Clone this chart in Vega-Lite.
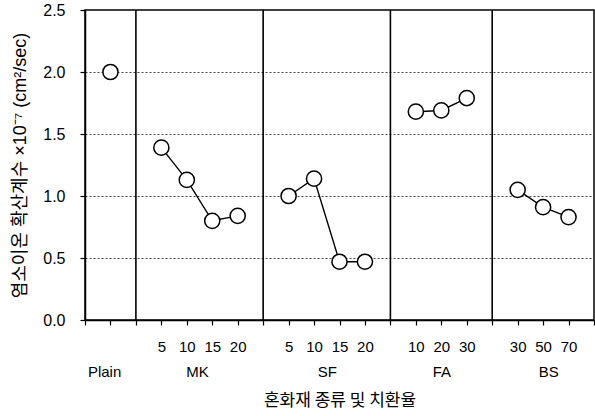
{
  "$schema": "https://vega.github.io/schema/vega-lite/v6.json",
  "width": 509,
  "height": 310,
  "autosize": "none",
  "padding": {"left": 85, "top": 10, "right": 1, "bottom": 96},
  "background": "#ffffff",
  "config": {
    "font": "Liberation Sans, Noto Sans CJK KR, sans-serif",
    "view": {"stroke": "#000000", "strokeWidth": 1.5},
    "axis": {
      "labelFont": "Liberation Sans, Noto Sans CJK KR, sans-serif",
      "titleFont": "Liberation Sans, Noto Sans CJK KR, sans-serif",
      "labelColor": "#000000",
      "titleColor": "#000000",
      "domainColor": "#000000",
      "domainWidth": 1.5,
      "tickColor": "#000000",
      "tickWidth": 1.2,
      "titleFontWeight": "normal"
    }
  },
  "datasets": {
    "pts": [
      {"group": "Plain", "rate": 0, "pos": 1, "D": 2.0},
      {"group": "MK", "rate": 5, "pos": 3, "D": 1.39},
      {"group": "MK", "rate": 10, "pos": 4, "D": 1.13},
      {"group": "MK", "rate": 15, "pos": 5, "D": 0.80},
      {"group": "MK", "rate": 20, "pos": 6, "D": 0.84},
      {"group": "SF", "rate": 5, "pos": 8, "D": 1.0},
      {"group": "SF", "rate": 10, "pos": 9, "D": 1.14},
      {"group": "SF", "rate": 15, "pos": 10, "D": 0.47},
      {"group": "SF", "rate": 20, "pos": 11, "D": 0.47},
      {"group": "FA", "rate": 10, "pos": 13, "D": 1.68},
      {"group": "FA", "rate": 20, "pos": 14, "D": 1.69},
      {"group": "FA", "rate": 30, "pos": 15, "D": 1.79},
      {"group": "BS", "rate": 30, "pos": 17, "D": 1.05},
      {"group": "BS", "rate": 50, "pos": 18, "D": 0.91},
      {"group": "BS", "rate": 70, "pos": 19, "D": 0.83}
    ],
    "div": [{"pos": 2}, {"pos": 7}, {"pos": 12}, {"pos": 16}]
  },
  "resolve": {"axis": {"x": "independent"}},
  "layer": [
    {
      "data": {"name": "div"},
      "mark": {"type": "rule", "color": "#000000", "strokeWidth": 1.6},
      "encoding": {
        "x": {
          "field": "pos",
          "type": "quantitative",
          "scale": {"domain": [0, 20], "nice": false, "zero": false},
          "axis": {
            "orient": "bottom",
            "values": [0.75, 4.4, 9.5, 14, 18.2],
            "labelExpr": "datum.value < 1 ? 'Plain' : datum.value < 5 ? 'MK' : datum.value < 10 ? 'SF' : datum.value < 15 ? 'FA' : 'BS'",
            "domain": false,
            "ticks": false,
            "grid": false,
            "labelFontSize": 15,
            "labelPadding": 44,
            "labelFlush": false,
            "labelOverlap": false,
            "title": "혼화재 종류 및 치환율",
            "titleFont": "Noto Sans CJK KR",
            "titleFontSize": 17,
            "titlePadding": 13
          }
        }
      }
    },
    {
      "data": {"name": "pts"},
      "mark": {"type": "line", "color": "#000000", "strokeWidth": 1.4},
      "encoding": {
        "x": {
          "field": "pos",
          "type": "quantitative",
          "scale": {"domain": [0, 20], "nice": false, "zero": false},
          "axis": {
            "orient": "bottom",
            "values": [0, 1, 2, 3, 4, 5, 6, 7, 8, 9, 10, 11, 12, 13, 14, 15, 16, 17, 18, 19, 20],
            "labelExpr": "['','','','5','10','15','20','','5','10','15','20','','10','20','30','','30','50','70',''][datum.value]",
            "grid": false,
            "tickSize": 5,
            "labelFontSize": 15,
            "labelPadding": 14,
            "labelFlush": false,
            "labelOverlap": false,
            "title": null
          }
        },
        "y": {
          "field": "D",
          "type": "quantitative",
          "scale": {"domain": [0, 2.5], "nice": false},
          "axis": {
            "values": [0, 0.5, 1.0, 1.5, 2.0, 2.5],
            "format": ".1f",
            "grid": true,
            "gridColor": "#444444",
            "gridDash": [2, 2],
            "gridWidth": 1,
            "tickSize": 5,
            "labelFontSize": 16,
            "labelPadding": 15,
            "title": "염소이온 확산계수 ×10⁻⁷ (cm²/sec)",
            "titleFontSize": 18,
            "titlePadding": 13
          }
        },
        "detail": {"field": "group"}
      }
    },
    {
      "data": {"name": "pts"},
      "mark": {"type": "point", "shape": "circle", "filled": true, "fill": "#ffffff", "stroke": "#000000", "strokeWidth": 1.5, "size": 230, "opacity": 1},
      "encoding": {
        "x": {"field": "pos", "type": "quantitative", "axis": null},
        "y": {
          "field": "D",
          "type": "quantitative",
          "axis": {
            "values": [0, 0.5, 1.0, 1.5, 2.0, 2.5],
            "format": ".1f",
            "grid": true,
            "gridColor": "#444444",
            "gridDash": [2, 2],
            "gridWidth": 1,
            "tickSize": 5,
            "labelFontSize": 16,
            "labelPadding": 15,
            "title": "염소이온 확산계수 ×10⁻⁷ (cm²/sec)",
            "titleFontSize": 18,
            "titlePadding": 13
          }
        }
      }
    }
  ]
}
